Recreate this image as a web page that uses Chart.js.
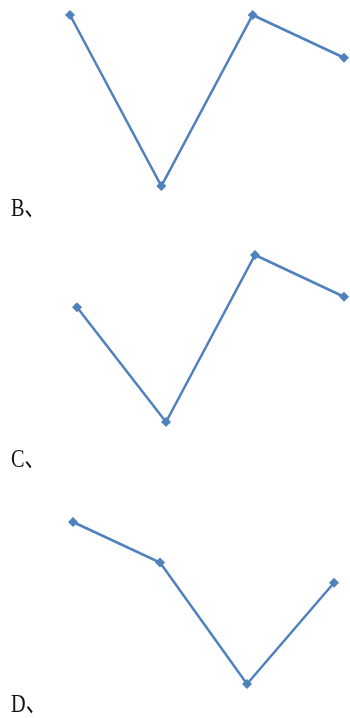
<!DOCTYPE html>
<html lang="zh">
<head>
<meta charset="UTF-8">
<title>折线图 B C D</title>
<script src="https://cdn.jsdelivr.net/npm/chart.js@4.4.1/dist/chart.umd.min.js"></script>
<style>
    body { margin: 0; background: #fff; width: 350px; height: 718px; position: relative; overflow: hidden; }
    .panel { position: absolute; left: 0; width: 350px; }
    .opt {
        position: absolute; left: 11px;
        font-family: "Liberation Serif", "Noto Sans CJK SC", serif;
        font-size: 26px; line-height: 26px; color: #111;
        transform: scaleX(0.78); transform-origin: left top;
    }
</style>
</head>
<body>

<div class="panel" style="top:0;height:240px"><canvas id="chartB"></canvas></div>
<div class="panel" style="top:240px;height:240px"><canvas id="chartC"></canvas></div>
<div class="panel" style="top:480px;height:238px"><canvas id="chartD"></canvas></div>

<div class="opt" style="top:195px">B、</div>
<div class="opt" style="top:446px">C、</div>
<div class="opt" style="top:691px">D、</div>

<script>
    // four points per option, same shape for each chart
    const categories = ['1', '2', '3', '4'];
    const seriesB = [5, 1, 5, 4];
    const seriesC = [3.75, 1, 5, 4];
    const seriesD = [5, 4, 1, 3.5];

    const lineBlue = '#4f81bd';

    function makeChart(id, values, pad) {
        return new Chart(document.getElementById(id), {
            type: 'line',
            data: {
                labels: categories,
                datasets: [{
                    data: values,
                    borderColor: lineBlue,
                    borderWidth: 2.5,
                    pointStyle: 'rectRot',
                    pointRadius: 5,
                    pointBackgroundColor: lineBlue,
                    pointBorderColor: lineBlue,
                    pointBorderWidth: 0,
                    tension: 0,
                    clip: false
                }]
            },
            options: {
                responsive: true,
                maintainAspectRatio: false,
                animation: false,
                layout: { padding: pad },
                plugins: { legend: { display: false }, tooltip: { enabled: false } },
                scales: {
                    x: { display: false, offset: false },
                    y: { display: false, min: 1, max: 5 }
                }
            }
        });
    }

    makeChart('chartB', seriesB, { left: 70, right: 6, top: 15, bottom: 54 });
    makeChart('chartC', seriesC, { left: 77, right: 6, top: 15, bottom: 58 });
    makeChart('chartD', seriesD, { left: 73, right: 16, top: 42, bottom: 34 });
</script>

</body>
</html>
